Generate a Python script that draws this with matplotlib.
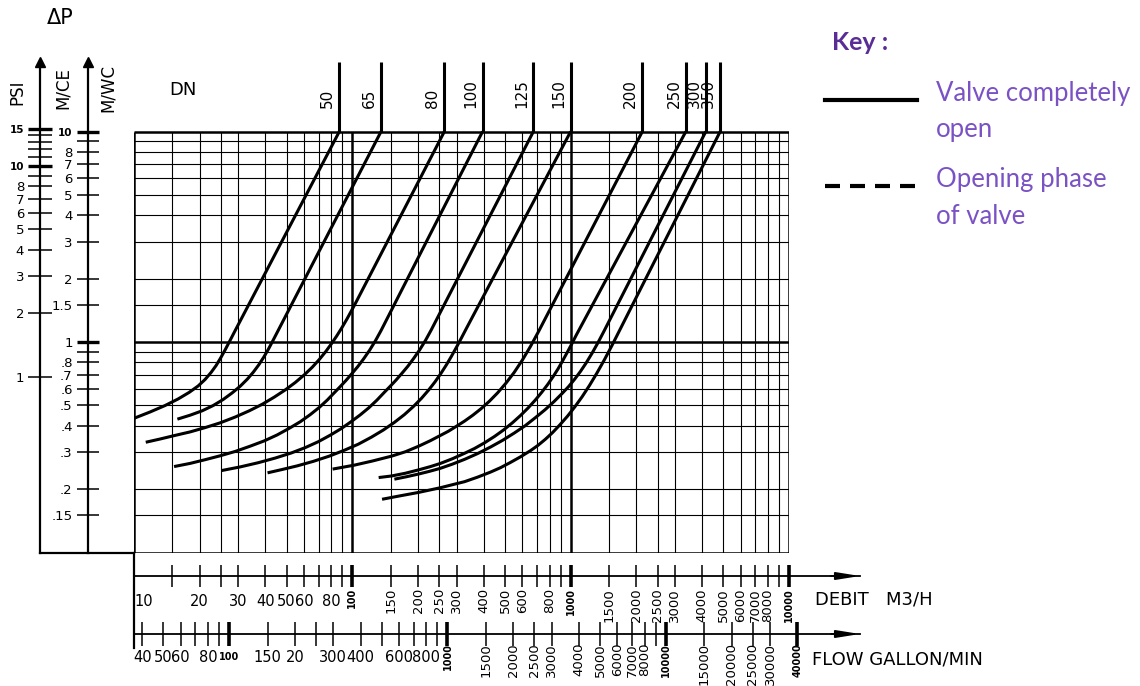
import matplotlib
matplotlib.use('Agg')
import matplotlib.pyplot as plt
import matplotlib.transforms as mtransforms
from matplotlib.lines import Line2D
from matplotlib.ticker import NullLocator

dn_sizes = [50, 65, 80, 100, 125, 150, 200, 250, 300, 350]

q_dn50 = [10.0, 11.84, 13.87, 15.91, 17.88, 19.66, 21.17, 22.55, 23.77, 24.94, 26.15, 27.43,
          28.75, 87.2]
dp_dn50 = [0.434, 0.465, 0.499, 0.536, 0.576, 0.618, 0.664, 0.717, 0.773, 0.840, 0.918, 1.009,
           1.109, 10.0]
q_dn65 = [15.80, 18.07, 20.51, 23.04, 25.60, 28.15, 30.63, 32.99, 35.16, 37.25, 39.26, 41.18,
          43.19, 45.29, 47.51, 135.4]
dp_dn65 = [0.430, 0.449, 0.471, 0.499, 0.533, 0.573, 0.616, 0.665, 0.718, 0.778, 0.846, 0.921,
           1.011, 1.112, 1.224, 10.0]
q_dn80 = [11.32, 13.16, 15.42, 18.07, 21.17, 24.80, 29.06, 33.70, 38.66, 43.87, 49.28, 54.77,
          60.23, 65.54, 70.58, 75.57, 80.54, 84.90, 89.50, 94.36, 99.47, 104.9, 264]
dp_dn80 = [0.334, 0.346, 0.360, 0.374, 0.392, 0.413, 0.440, 0.471, 0.506, 0.547, 0.592, 0.642,
           0.698, 0.759, 0.826, 0.901, 0.987, 1.070, 1.168, 1.283, 1.418, 1.573, 10.0]
q_dn100 = [15.26, 18.07, 21.17, 24.80, 29.06, 34.05, 39.48, 45.29, 51.40, 57.74, 64.17, 70.58,
           76.79, 82.68, 87.90, 93.56, 99.47, 105.9, 112.6, 119.8, 127.4, 135.4, 395]
dp_dn100 = [0.256, 0.265, 0.276, 0.288, 0.302, 0.320, 0.339, 0.362, 0.389, 0.418, 0.452, 0.489,
            0.530, 0.574, 0.613, 0.657, 0.707, 0.764, 0.831, 0.912, 1.011, 1.134, 10.0]
q_dn125 = [25.15, 30.63, 37.06, 44.35, 52.51, 60.86, 69.83, 79.27, 89.03, 98.95, 108.8, 119.0,
           129.5, 140.2, 149.1, 158.7, 168.7, 179.6, 190.9, 203.2, 216.0, 229.6, 675]
dp_dn125 = [0.245, 0.255, 0.267, 0.281, 0.297, 0.315, 0.336, 0.361, 0.388, 0.419, 0.451, 0.487,
            0.529, 0.577, 0.616, 0.660, 0.710, 0.767, 0.835, 0.916, 1.015, 1.139, 10.0]
q_dn150 = [40.89, 47.75, 55.95, 66.24, 78.44, 91.91, 106.5, 122.2, 138.8, 155.8, 173.2, 190.5,
           207.3, 223.2, 239.0, 254.7, 269.9, 284.5, 300.0, 316.2, 333.4, 1000]
dp_dn150 = [0.239, 0.248, 0.258, 0.271, 0.287, 0.306, 0.327, 0.353, 0.382, 0.415, 0.452, 0.494,
            0.540, 0.590, 0.646, 0.710, 0.780, 0.856, 0.945, 1.047, 1.163, 10.0]
q_dn200 = [81.22, 102.1, 123.5, 151.4, 175.0, 201.4, 228.0, 253.3, 275.7, 300.0, 326.6, 356.4,
           388.6, 424.2, 462.5, 505.0, 551.2, 601.0, 656.1, 715.4, 2130]
dp_dn200 = [0.249, 0.260, 0.272, 0.287, 0.301, 0.320, 0.340, 0.360, 0.377, 0.398, 0.421, 0.449,
            0.482, 0.523, 0.573, 0.637, 0.717, 0.821, 0.957, 1.130, 10.0]
q_dn250 = [132.0, 151.4, 175.0, 201.4, 228.0, 253.3, 287.6, 326.6, 362.8, 403.3, 448.1, 492.8,
           542.0, 589.8, 638.3, 687.6, 736.2, 784.5, 831.3, 876.5, 919.1, 963.6, 1011, 1060, 3370]
dp_dn250 = [0.227, 0.231, 0.238, 0.247, 0.256, 0.265, 0.279, 0.296, 0.312, 0.332, 0.356, 0.382,
            0.414, 0.448, 0.486, 0.529, 0.576, 0.628, 0.685, 0.747, 0.815, 0.891, 0.978, 1.077,
            10.0]
q_dn300 = [155.8, 176.9, 201.4, 225.6, 252.6, 287.6, 326.6, 374.5, 429.5, 487.6, 550.7, 618.4,
           691.0, 763.8, 840.3, 919.1, 978.1, 1041, 1108, 1179, 1255, 1336, 1422, 4160]
dp_dn300 = [0.223, 0.229, 0.236, 0.243, 0.251, 0.263, 0.277, 0.295, 0.317, 0.341, 0.369, 0.400,
            0.438, 0.477, 0.522, 0.573, 0.614, 0.664, 0.724, 0.797, 0.887, 0.996, 1.127, 10.0]
q_dn350 = [136.8, 166.1, 201.4, 252.6, 287.6, 326.6, 374.5, 429.5, 477.5, 530.6, 589.8, 655.5,
           708.8, 765.5, 827.8, 894.2, 966.7, 1045, 1129, 1221, 1319, 1426, 1542, 1666, 4840]
dp_dn350 = [0.179, 0.186, 0.193, 0.203, 0.210, 0.217, 0.228, 0.241, 0.253, 0.268, 0.285, 0.305,
            0.323, 0.345, 0.372, 0.405, 0.444, 0.492, 0.550, 0.623, 0.712, 0.822, 0.958, 1.123,
            10.0]

# quadrillage
grid_q = [15, 20, 25, 30, 40, 50, 60, 70, 80, 90, 100, 150, 200, 250, 300, 400, 500, 600,
          700, 800, 900, 1000, 1500, 2000, 2500, 3000, 4000, 5000, 6000, 7000, 8000, 9000]
grid_dp = [0.15, 0.2, 0.3, 0.4, 0.5, 0.6, 0.7, 0.8, 0.9, 1, 1.5, 2, 3, 4, 5, 6, 7, 8, 9]

# echelles de gauche
mce_ticks = [0.15, 0.2, 0.3, 0.4, 0.5, 0.6, 0.7, 0.8, 0.9, 1, 1.5, 2, 3, 4, 5, 6, 7, 8, 9, 10]
mce_labels = ['.15', '.2', '.3', '.4', '.5', '.6', '.7', '.8', '', '1', '1.5', '2', '3', '4',
              '5', '6', '7', '8', '', '10']
psi_ticks = [1, 2, 3, 4, 5, 6, 7, 8, 9, 10, 11, 12, 13, 14, 15]
psi_labels = ['1', '2', '3', '4', '5', '6', '7', '8', '', '10', '', '', '', '', '15']
M_PER_PSI = 0.685

# echelles du bas
q_ticks = [10] + grid_q + [10000]
q_label_vals = [10, 20, 30, 40, 50, 60, 80, 100, 150, 200, 250, 300, 400, 500, 600, 800, 1000,
                1500, 2000, 2500, 3000, 4000, 5000, 6000, 7000, 8000, 10000]
q_label_txt = [str(v) for v in q_label_vals]
gal_ticks = [40, 50, 60, 70, 80, 90, 100, 150, 200, 250, 300, 400, 500, 600, 700, 800, 900, 1000,
             1500, 2000, 2500, 3000, 4000, 5000, 6000, 7000, 8000, 9000, 10000, 15000, 20000,
             25000, 30000, 40000]
gal_label_vals = [40, 50, 60, 80, 100, 150, 200, 300, 400, 600, 800, 1000, 1500, 2000, 2500, 3000,
                  4000, 5000, 6000, 7000, 8000, 10000, 15000, 20000, 25000, 30000, 40000]
gal_label_txt = ['40', '50', '60', '80', '100', '150', '20', '300', '400', '600', '800', '1000',
                 '1500', '2000', '2500', '3000', '4000', '5000', '6000', '7000', '8000', '10000',
                 '15000', '20000', '25000', '30000', '40000']
GAL_PER_M3H = 3.666

# --- mise en page (pixels) ---
W, H = 1140, 686
X10, X10K = 134, 789
Y_BOT, Y_TEN, Y_TOP = 552.5, 131.5, 62
X_END = 860
dec_x = (X10K - X10) / 3
dec_y = (Y_BOT - Y_TEN) / 2
dp_top = 10 ** (1 + (Y_TEN - Y_TOP) / dec_y)
q_max = 10 ** (4 + (X_END - X10K) / dec_x)


def rect(x0, y0, x1, y1):
    return [x0 / W, 1 - y1 / H, (x1 - x0) / W, (y1 - y0) / H]


def fy(py):
    return 1 - py / H


fig = plt.figure(figsize=(W / 100, H / 100), dpi=100)

# abaque principal
ax = fig.add_axes(rect(X10, Y_TOP, X10K, Y_BOT))
ax.set_xscale('log')
ax.set_yscale('log')
ax.set_xlim(10, 10000)
ax.set_ylim(0.1, dp_top)
ax.axis('off')

ax.hlines(grid_dp, 10, 10000, colors='k', lw=[1.8 if v == 1 else 0.8 for v in grid_dp])
ax.vlines(grid_q, 0.1, 10, colors='k', lw=[1.8 if v in (100, 1000) else 0.8 for v in grid_q])
ax.hlines([0.1, 10], 10, 10000, colors='k', lw=1.8)
ax.vlines([10, 10000], 0.1, 10, colors='k', lw=1.8)

curves = [(q_dn50, dp_dn50), (q_dn65, dp_dn65), (q_dn80, dp_dn80), (q_dn100, dp_dn100),
          (q_dn125, dp_dn125), (q_dn150, dp_dn150), (q_dn200, dp_dn200), (q_dn250, dp_dn250),
          (q_dn300, dp_dn300), (q_dn350, dp_dn350)]
lab_tr = mtransforms.blended_transform_factory(ax.transData, fig.transFigure) + \
    mtransforms.ScaledTranslation(-0.04, 0, fig.dpi_scale_trans)
for dn, (q, dp) in zip(dn_sizes, curves):
    ax.plot(q, dp, color='k', lw=2.2, solid_joinstyle='round', solid_capstyle='butt')
    ax.vlines(q[-1], dp[-1], dp_top, colors='k', lw=2.2)
    ax.text(q[-1], fy(108), str(dn), transform=lab_tr, rotation=90, ha='right', va='bottom',
            fontsize=11)

# echelle PSI
axp = fig.add_axes(rect(40, Y_TOP, X10, Y_BOT))
axp.set_facecolor('none')
axp.set_yscale('log')
axp.set_ylim(0.1 / M_PER_PSI, dp_top / M_PER_PSI)
axp.set_xlim(0, 1)
axp.set_xticks([])
axp.spines['top'].set_visible(False)
axp.spines['right'].set_visible(False)
axp.spines['left'].set_linewidth(1.6)
axp.spines['bottom'].set_linewidth(1.6)
axp.set_yticks(psi_ticks, psi_labels)
axp.yaxis.set_minor_locator(NullLocator())
axp.tick_params(axis='y', direction='inout', length=17, width=1.1, pad=3, labelsize=9.5)
for t, lab in zip(axp.yaxis.get_major_ticks(), psi_labels):
    if lab in ('10', '15'):
        t.tick1line.set_markeredgewidth(2.4)
        t.label1.set_fontweight('bold')
        t.label1.set_fontsize(7.5)
axp.plot(0, 1, marker='^', ms=7, color='k', transform=axp.transAxes, clip_on=False)

# echelle M/CE
axm = fig.add_axes(rect(88, Y_TOP, 89, Y_BOT))
axm.set_facecolor('none')
axm.set_yscale('log')
axm.set_ylim(0.1, dp_top)
axm.set_xticks([])
for s in ['top', 'right', 'bottom']:
    axm.spines[s].set_visible(False)
axm.spines['left'].set_linewidth(1.6)
axm.set_yticks(mce_ticks, mce_labels)
axm.yaxis.set_minor_locator(NullLocator())
axm.tick_params(axis='y', direction='inout', length=16, width=1.1, pad=3, labelsize=9.5)
for t, lab in zip(axm.yaxis.get_major_ticks(), mce_labels):
    if lab in ('10', '1'):
        t.tick1line.set_markeredgewidth(2.4)
    if lab == '10':
        t.label1.set_fontweight('bold')
        t.label1.set_fontsize(7.5)
axm.plot(0, 1, marker='^', ms=7, color='k', transform=axm.transAxes, clip_on=False)

# echelle debit m3/h
Y_AX_BOT = 648
arrow_kw = dict(arrowstyle='-|>,head_length=1.0,head_width=0.16', color='k', lw=1.3,
                mutation_scale=14, shrinkA=0, shrinkB=0)
axq = fig.add_axes(rect(X10, Y_BOT, X_END, Y_AX_BOT))
axq.set_facecolor('none')
axq.set_xscale('log')
axq.set_xlim(10, q_max)
axq.set_ylim(0, 1)
axq.set_yticks([])
axq.spines['top'].set_visible(False)
axq.spines['right'].set_visible(False)
axq.spines['left'].set_linewidth(1.6)
f_q = (Y_AX_BOT - 576) / (Y_AX_BOT - Y_BOT)
axq.spines['bottom'].set_position(('axes', f_q))
axq.spines['bottom'].set_linewidth(1.3)
axq.set_xticks(q_ticks, [''] * len(q_ticks))
axq.xaxis.set_minor_locator(NullLocator())
axq.tick_params(axis='x', direction='inout', length=16, width=1.1)
for t, v in zip(axq.xaxis.get_major_ticks(), q_ticks):
    if v in (100, 1000, 10000):
        t.tick1line.set_markeredgewidth(2.6)
axq.annotate('', xy=(1, f_q), xytext=(0.96, f_q), xycoords='axes fraction', arrowprops=arrow_kw)

# echelle gallon/min
axg = fig.add_axes(rect(X10, Y_BOT, X_END, Y_AX_BOT))
axg.set_facecolor('none')
axg.set_xscale('log')
axg.set_xlim(10 * GAL_PER_M3H, q_max * GAL_PER_M3H)
axg.set_ylim(0, 1)
axg.set_yticks([])
for s in ['top', 'right', 'left']:
    axg.spines[s].set_visible(False)
f_g = (Y_AX_BOT - 634) / (Y_AX_BOT - Y_BOT)
axg.spines['bottom'].set_position(('axes', f_g))
axg.spines['bottom'].set_linewidth(1.3)
axg.set_xticks(gal_ticks, [''] * len(gal_ticks))
axg.xaxis.set_minor_locator(NullLocator())
axg.tick_params(axis='x', direction='inout', length=17, width=1.1)
for t, v in zip(axg.xaxis.get_major_ticks(), gal_ticks):
    if v in (100, 1000, 10000, 40000):
        t.tick1line.set_markeredgewidth(2.6)
axg.annotate('', xy=(1, f_g), xytext=(0.96, f_g), xycoords='axes fraction', arrowprops=arrow_kw)

# etiquettes des echelles du bas
tq = mtransforms.blended_transform_factory(axq.transData, fig.transFigure)
for v, s in zip(q_label_vals, q_label_txt):
    bold = v in (100, 1000, 10000)
    if v < 100:
        ax_ha = 'left' if v == 10 else 'center'
        axq.text(v, fy(601), s, transform=tq, ha=ax_ha, va='center', fontsize=10.5)
    else:
        axq.text(v, fy(588), s, transform=tq, ha='center', va='top', rotation=90,
                 fontsize=7 if bold else 9.5, fontweight='bold' if bold else 'normal')

tg = mtransforms.blended_transform_factory(axg.transData, fig.transFigure)
for v, s in zip(gal_label_vals, gal_label_txt):
    bold = v in (100, 1000, 10000, 40000)
    if v <= 800:
        axg.text(v, fy(657), s, transform=tg, ha='center', va='center',
                 fontsize=7 if bold else 10.5, fontweight='bold' if bold else 'normal')
    else:
        axg.text(v, fy(643), s, transform=tg, ha='center', va='top', rotation=90,
                 fontsize=7 if bold else 9.5, fontweight='bold' if bold else 'normal')

fig.text(815 / W, fy(600), 'DEBIT   M3/H', fontsize=13, va='center')
fig.text(812 / W, fy(659), 'FLOW GALLON/MIN', fontsize=13, va='center')

# titres des axes
fig.text(60 / W, fy(18), '\u0394P', fontsize=15, ha='center', va='center')
fig.text(17 / W, fy(92), 'PSI', fontsize=12, rotation=90, ha='center', va='center')
fig.text(63 / W, fy(88), 'M/CE', fontsize=12, rotation=90, ha='center', va='center')
fig.text(108 / W, fy(88), 'M/WC', fontsize=12, rotation=90, ha='center', va='center')
fig.text(183 / W, fy(90), 'DN', fontsize=13, ha='center', va='center')

# legende
purple_dark = '#5a2d96'
purple = '#7a52c4'
fig.text(832 / W, fy(43), 'Key :', fontsize=18, fontweight='bold', color=purple_dark,
         family='Lato', va='center')
fig.add_artist(Line2D([825 / W, 917 / W], [fy(100), fy(100)], color='k', lw=3))
fig.add_artist(Line2D([825 / W, 917 / W], [fy(186), fy(186)], color='k', lw=3,
                      dashes=(3.6, 2.4)))
for txt, py in [('Valve completely', 93), ('open', 129), ('Opening phase', 180),
                ('of valve', 216)]:
    fig.text(936 / W, fy(py), txt, fontsize=18.5, color=purple, family='Lato', va='center')

fig.savefig('out.png', dpi=100)
